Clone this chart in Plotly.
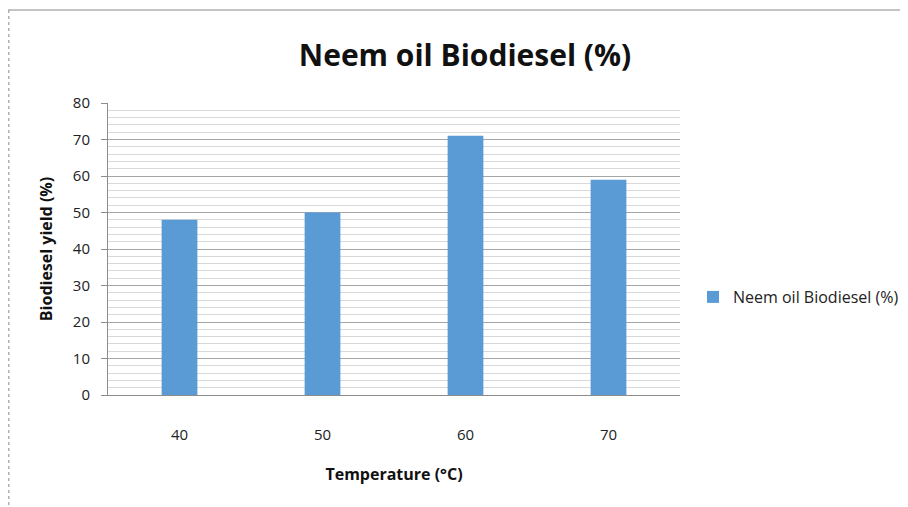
import plotly.graph_objects as go

temperatures = ["40", "50", "60", "70"]
yield_pct = [48, 50, 71, 59]
series_name = "Neem oil Biodiesel (%)"

# page has an 8px body margin; figure coordinates are offset by 8px
OFF = 8
W, H = 900, 499
L, T = 108 - OFF, 103 - OFF
pw, ph = 572, 292
R = W - L - pw
B = H - T - ph

fig = go.Figure()
fig.add_trace(go.Bar(
    x=temperatures, y=yield_pct, name=series_name,
    marker=dict(color="#5b9bd5", line=dict(width=0)),
    width=0.25, showlegend=True,
))

fig.update_layout(
    width=W, height=H,
    margin=dict(l=L, r=R, t=T, b=B, autoexpand=False),
    paper_bgcolor="white", plot_bgcolor="white",
    font=dict(family="Open Sans, Liberation Sans, sans-serif", color="#222"),
    title=dict(text="<b>Neem oil Biodiesel (%)</b>", x=(465 - OFF) / W, xanchor="center",
               y=1 - (55 - OFF) / H, yanchor="middle",
               font=dict(size=30, color="#111", family="Open Sans, sans-serif")),
    showlegend=True,
    legend=dict(x=(693 - OFF - L) / pw, y=1 - (297 - OFF - T) / ph, xanchor="left", yanchor="middle",
                font=dict(size=16, color="#222"), bgcolor="rgba(0,0,0,0)", itemwidth=30),
    bargap=0.75,
)
fig.update_yaxes(
    range=[0, 80], dtick=10, showgrid=True, gridcolor="#a6a6a6", gridwidth=1,
    minor=dict(dtick=2, showgrid=True, gridcolor="#d9d9d9", gridwidth=1),
    showline=True, linecolor="#8c8c8c", ticks="outside", ticklen=6, tickcolor="#8c8c8c",
    tickfont=dict(size=15, color="#222"), ticklabelstandoff=8, zeroline=False,
    title=dict(text="<b>Biodiesel yield (%)</b>", font=dict(size=16, color="#111"), standoff=16),
)
fig.update_xaxes(
    type="category", showline=True, linecolor="#8c8c8c", showgrid=False,
    tickfont=dict(size=15, color="#222"), ticklabelstandoff=26, ticks="",
    title=dict(text="<b>Temperature (°C)</b>", font=dict(size=16, color="#111"), standoff=25),
)

# outer frame lines (chart area border)
fig.add_shape(type="line", xref="paper", yref="paper",
              x0=(8 - OFF - L) / pw, x1=(W + 5 - L) / pw,
              y0=1 + (T - (10 - OFF)) / ph, y1=1 + (T - (10 - OFF)) / ph,
              line=dict(color="#b0b0b0", width=1.5))
fig.add_shape(type="line", xref="paper", yref="paper",
              x0=(8 - OFF - L + 0.75) / pw, x1=(8 - OFF - L + 0.75) / pw,
              y0=1 + (T - (10 - OFF)) / ph, y1=-(B + 5) / ph,
              line=dict(color="#b0b0b0", width=1.5, dash="dot"))

fig.write_html("out.html")
